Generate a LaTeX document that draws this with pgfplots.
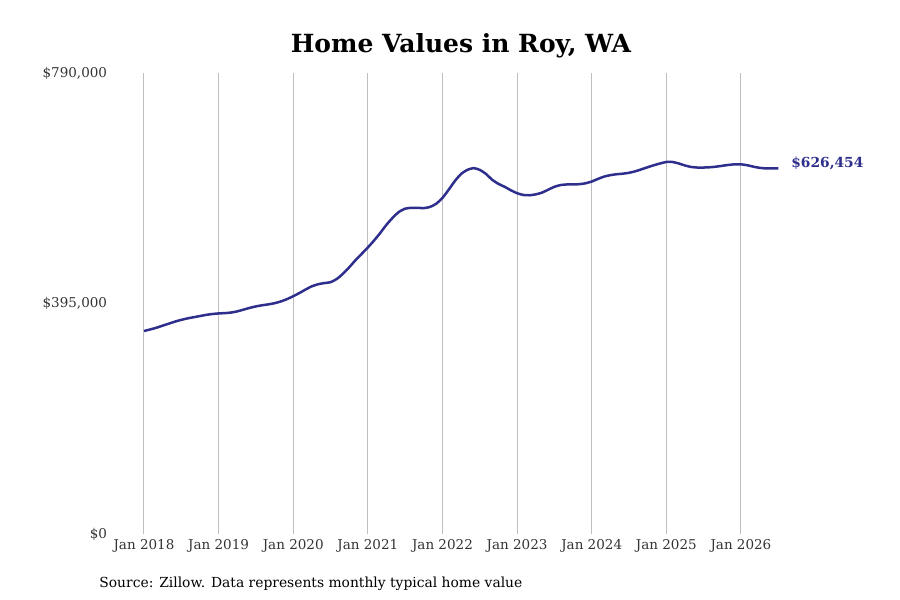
\documentclass[border=0pt]{standalone}
\usepackage{pgfplots}
\pgfplotsset{compat=1.18}
\usepackage{fontspec}
\setmainfont{DejaVu Serif}
\definecolor{linec}{RGB}{46,46,140}
\definecolor{gridc}{RGB}{190,190,190}
\definecolor{tickc}{RGB}{51,51,51}
\begin{document}
\begin{tikzpicture}
\path[use as bounding box] (0,0) rectangle (450pt,300pt);
\begin{axis}[
  at={(59.55pt,33pt)}, anchor=south west,
  scale only axis, width=335.8pt, height=230.5pt,
  xmin=-4, xmax=104, ymin=0, ymax=790000,
  axis line style={draw=none},
  major tick length=0pt,
  scaled y ticks=false,
  xtick={0,12,24,36,48,60,72,84,96},
  xticklabels={Jan 2018,Jan 2019,Jan 2020,Jan 2021,Jan 2022,Jan 2023,Jan 2024,Jan 2025,Jan 2026},
  ytick={0,395000,790000},
  yticklabels={{\$0},{\$395,000},{\$790,000}},
  xmajorgrids, ymajorgrids=false,
  grid style={gridc, line width=0.5pt},
  ticklabel style={font=\fontsize{6.75pt}{8pt}\selectfont, text=tickc},
  yticklabel style={xshift=-2.5pt},
  xticklabel style={yshift=1pt},
  /pgf/number format/assume math mode=true,
  clip=false,
]
\addplot[linec, line width=1.25pt, smooth, tension=0.4] coordinates {
(0,347900)(1,350500)(2,353500)(3,357000)(4,360500)(5,364000)(6,367000)(7,369500)(8,371500)(9,373500)(10,375500)(11,377000)
(12,378000)(13,378500)(14,379500)(15,381500)(16,384500)(17,387500)(18,390000)(19,392000)(20,393500)(21,395500)(22,398500)(23,402500)
(24,407500)(25,413000)(26,419000)(27,424500)(28,428000)(29,430000)(30,431500)(31,437000)(32,446000)(33,457000)(34,469000)(35,480000)
(36,491000)(37,503000)(38,516000)(39,530000)(40,542000)(41,552000)(42,557500)(43,559000)(44,559000)(45,558500)(46,560500)(47,566000)
(48,576000)(49,590000)(50,605000)(51,617000)(52,624000)(53,627000)(54,624000)(55,617000)(56,607000)(57,600000)(58,595000)(59,589000)
(60,584000)(61,581000)(62,580500)(63,582000)(64,585000)(65,590000)(66,595000)(67,598000)(68,599000)(69,599000)(70,599500)(71,601000)
(72,604000)(73,608500)(74,612500)(75,615000)(76,616500)(77,617500)(78,619000)(79,621500)(80,625000)(81,628500)(82,632000)(83,635000)
(84,637500)(85,637500)(86,635000)(87,631500)(88,629000)(89,628000)(90,628000)(91,628500)(92,629500)(93,631000)(94,632500)(95,633500)
(96,633500)(97,632000)(98,629500)(99,627500)(100,626500)(101,626500)(102,626454)
};
\node[anchor=west, text=linec, font=\fontsize{6.9pt}{8pt}\selectfont\bfseries, xshift=3pt, yshift=2.5pt] at (axis cs:102,626454) {\$626,454};
\end{axis}
\node[font=\fontsize{12.5pt}{14pt}\selectfont\bfseries] at (230.5pt,277pt) {Home Values in Roy, WA};
\node[anchor=west, font=\fontsize{6.93pt}{8pt}\selectfont, inner sep=0pt] at (49.5pt,8pt) {Source: Zillow. Data represents monthly typical home value};
\end{tikzpicture}
\end{document}
